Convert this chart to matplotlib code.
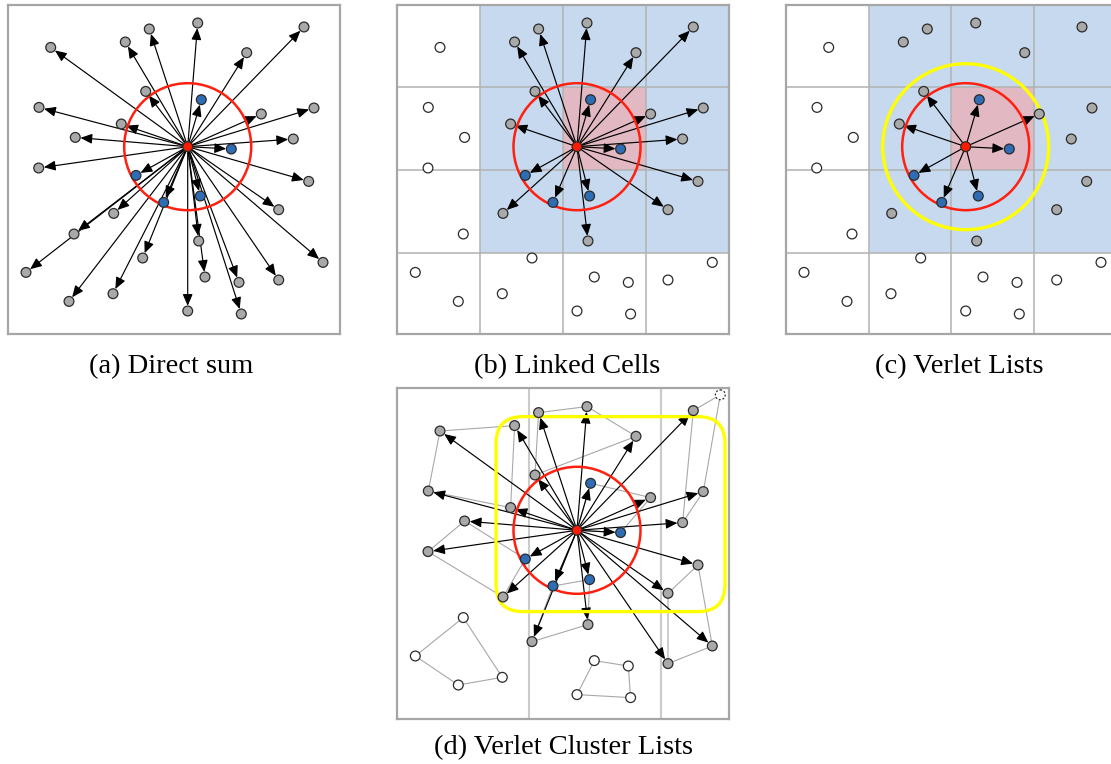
import matplotlib
matplotlib.use('Agg')
from matplotlib import pyplot as plt
from matplotlib.patches import Circle, Rectangle, FancyArrowPatch, FancyBboxPatch
import numpy as np

# particle positions in a 332 x 330 domain, y grows downward
px = [189.7, 141.3, 296.0, 42.7, 117.3, 238.7, 137.7, 31.0, 306.0, 253.3,
      113.3, 67.3, 285.3, 30.7, 300.7, 270.7, 105.7, 66.0, 190.7, 315.0,
      134.7, 18.0, 197.0, 231.0, 270.7, 105.0, 61.0, 179.7, 233.3,
      193.3, 223.3, 128.0, 155.7, 192.3]
py = [18.3, 24.3, 22.3, 42.7, 37.3, 48.0, 86.7, 102.7, 103.3, 109.3,
      119.3, 132.7, 134.3, 163.3, 176.7, 205.0, 208.7, 229.3, 236.3, 257.7,
      253.3, 267.7, 272.3, 277.7, 275.3, 289.0, 296.7, 306.3, 309.3,
      95.0, 144.3, 170.7, 197.7, 191.3]
center = (179.7, 142.0)
dummy = (323.0, 6.5)

cutoff = 63.5
verlet_radius = 83.0
cell = 82.75
tower_lines = [131.7, 263.3]
# cluster box around the centre particle: x0, y0, x1, y1
cluster_box = (98.7, 28.3, 327.7, 223.3)

# clusters of four (-1 = centre particle, 34 = dummy particle)
clusters = [[17, 21, 26, 25], [22, 23, 28, 27], [3, 4, 10, 7], [1, 0, 5, 6],
            [2, 34, 8, 12], [11, 31, 16, 13], [-1, 29, 9, 30],
            [32, 33, 18, 20], [14, 19, 24, 15]]

captions = ["(a) Direct sum", "(b) Linked Cells", "(c) Verlet Lists",
            "(d) Verlet Cluster Lists"]

W, H = 1111, 764
R = 4.9
GRAY = '#a9a9a9'
BLUE = '#2e6db4'
RED = '#ff1a00'
EDGE = '#2a2a2a'
CELL_BLUE = '#c6d9ef'
CELL_PINK = '#e2b9c3'

pts = list(zip(px, py))
dist = [np.hypot(x - center[0], y - center[1]) for x, y in pts]


def pos(i):
    if i == -1:
        return center
    if i == 34:
        return dummy
    return pts[i]


def make_ax(fig, left, top, w=332, h=329.6):
    ax = fig.add_axes([left / W, 1 - (top + h) / H, w / W, h / H])
    ax.set_xlim(0, w)
    ax.set_ylim(h, 0)
    ax.set_xticks([])
    ax.set_yticks([])
    for s in ax.spines.values():
        s.set_color('#a6a6a6')
        s.set_linewidth(1.6)
    return ax


def dot(ax, xy, color, ls='-', z=5):
    ax.add_patch(Circle(xy, R, facecolor=color, edgecolor=EDGE, lw=0.9,
                        linestyle=ls, zorder=z))


def arrow(ax, xy):
    ax.add_patch(FancyArrowPatch(center, xy, arrowstyle='-|>,head_length=0.7,head_width=0.3',
                                 mutation_scale=10, shrinkA=0, shrinkB=3.7,
                                 color='black', lw=0.85, zorder=3))


def point_color(i, active):
    if dist[i] < cutoff:
        return BLUE
    return GRAY if active else 'white'


def cell_grid(ax):
    ax.add_patch(Rectangle((cell, 0), 3 * cell, 3 * cell, facecolor=CELL_BLUE,
                           edgecolor='none', zorder=0))
    ax.add_patch(Rectangle((2 * cell, cell), cell, cell, facecolor=CELL_PINK,
                           edgecolor='none', zorder=0))
    for k in range(1, 4):
        ax.axvline(k * cell, color='#b2b2b2', lw=1.1, zorder=1)
        ax.axhline(k * cell, color='#b2b2b2', lw=1.1, zorder=1)


def in_cell_region(x, y):
    return x > cell and y < 3 * cell


fig = plt.figure(figsize=(W / 100, H / 100), dpi=100)

# (a) direct sum: every particle interacts with the centre
ax = make_ax(fig, 8, 4.7)
for i, xy in enumerate(pts):
    arrow(ax, xy)
ax.add_patch(Circle(center, cutoff, fill=False, edgecolor='#ff2010', lw=1.8, zorder=4))
for i, xy in enumerate(pts):
    dot(ax, xy, point_color(i, True))
dot(ax, center, RED, z=6)

# (b) linked cells
ax = make_ax(fig, 397.3, 4.7)
cell_grid(ax)
for i, xy in enumerate(pts):
    if in_cell_region(*xy):
        arrow(ax, xy)
ax.add_patch(Circle(center, cutoff, fill=False, edgecolor='#ff2010', lw=1.8, zorder=4))
for i, xy in enumerate(pts):
    dot(ax, xy, point_color(i, in_cell_region(*xy)))
dot(ax, center, RED, z=6)

# (c) verlet lists
ax = make_ax(fig, 786, 4.7)
cell_grid(ax)
for i, xy in enumerate(pts):
    if dist[i] < verlet_radius:
        arrow(ax, xy)
ax.add_patch(Circle(center, cutoff, fill=False, edgecolor='#ff2010', lw=1.8, zorder=4))
ax.add_patch(Circle(center, verlet_radius, fill=False, edgecolor='#ffff00', lw=2.4, zorder=4))
for i, xy in enumerate(pts):
    dot(ax, xy, point_color(i, in_cell_region(*xy)))
dot(ax, center, RED, z=6)

# (d) verlet cluster lists
ax = make_ax(fig, 397.3, 388.3, h=330.7)
for xt in tower_lines:
    ax.axvline(xt, color='#cbcbcb', lw=1.5, zorder=1)
x0, y0, x1, y1 = cluster_box
active = set()
for cl in clusters:
    hit = any(x0 < pos(i)[0] < x1 and y0 < pos(i)[1] < y1 for i in cl)
    if hit:
        active.update(cl)
    ring = [pos(i) for i in cl + [cl[0]]]
    ax.plot([p[0] for p in ring], [p[1] for p in ring], color='#a8a8a8',
            lw=0.8, zorder=2)
for i, xy in enumerate(pts):
    if i in active:
        arrow(ax, xy)
ax.add_patch(FancyBboxPatch((x0, y0), x1 - x0, y1 - y0,
                            boxstyle='round,pad=0,rounding_size=27',
                            fill=False, edgecolor='#ffff00', lw=2.4, zorder=4))
ax.add_patch(Circle(center, cutoff, fill=False, edgecolor='#ff2010', lw=1.8, zorder=4))
for i, xy in enumerate(pts):
    dot(ax, xy, point_color(i, i in active))
dot(ax, dummy, 'white', ls=(0, (1.5, 1.5)))
dot(ax, center, RED, z=6)

for txt, (cx, cy) in zip(captions, [(171.5, 367), (567, 367), (959, 367), (563.5, 748)]):
    fig.text(cx / W, 1 - cy / H, txt, ha='center', va='center',
             family='Liberation Serif', fontsize=20.5)

fig.savefig('out.png', dpi=100)
